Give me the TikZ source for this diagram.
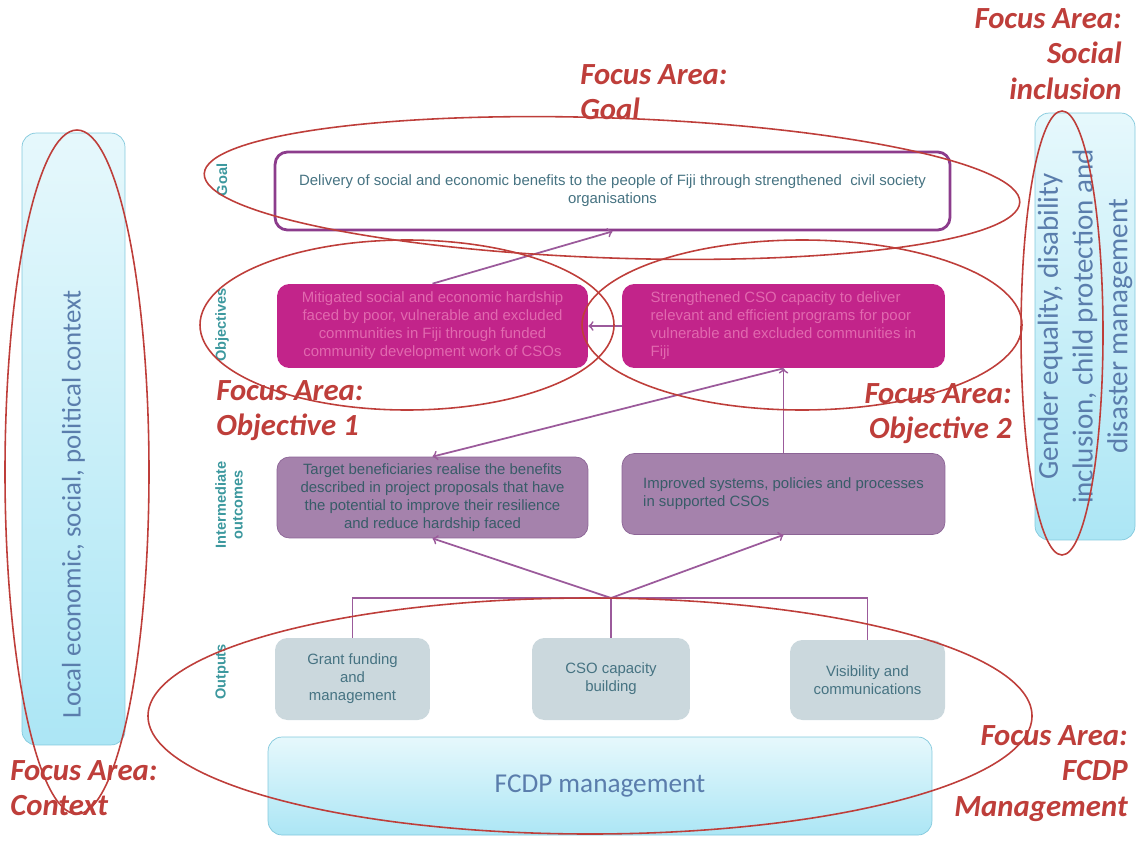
\documentclass[tikz,border=0pt]{standalone}
\usepackage{fontspec}
\setmainfont{Liberation Sans}
\newfontfamily\calibrifont{Carlito}
\usetikzlibrary{positioning}
\definecolor{focusred}{RGB}{190,62,58}
\definecolor{rowteal}{RGB}{60,152,158}
\definecolor{goalpurple}{RGB}{140,60,140}
\definecolor{objmagenta}{RGB}{194,36,138}
\definecolor{objtext}{RGB}{225,105,175}
\definecolor{intpurple}{RGB}{165,130,172}
\definecolor{intborder}{RGB}{140,100,150}
\definecolor{boxtext}{RGB}{70,115,130}
\definecolor{outgrey}{RGB}{203,216,221}
\definecolor{linkpurple}{RGB}{155,90,155}
\definecolor{skylight}{RGB}{230,248,252}
\definecolor{skydeep}{RGB}{172,230,245}
\definecolor{skyborder}{RGB}{130,200,220}
\definecolor{skytext}{RGB}{90,125,172}
\tikzset{
  box/.style={rounded corners=7pt, inner sep=0pt, align=center, font=\fontsize{8.5}{10.2}\selectfont},
  goalbox/.style={box, draw=goalpurple, line width=1.6pt, fill=white, text=boxtext},
  objbox/.style={box, fill=objmagenta, text=objtext},
  intbox/.style={box, fill=intpurple, draw=intborder, text=boxtext!80!black},
  outbox/.style={box, fill=outgrey, text=boxtext},
  skybox/.style={rounded corners=8pt, draw=skyborder, inner sep=0pt, align=center, text=skytext, font=\calibrifont\fontsize{16.5}{19.8}\selectfont},
  skytxt/.style={inner sep=0pt, align=center, text=skytext, font=\calibrifont\fontsize{15.3}{18}\selectfont},
  rowlabel/.style={rotate=90, text=rowteal, align=center, font=\bfseries\fontsize{8.3}{9.5}\selectfont},
  link/.style={linkpurple, line width=1pt},
  focus/.style={focusred, line width=0.9pt},
  focuslabel/.style={text=focusred, inner sep=0pt, font=\calibrifont\bfseries\itshape\fontsize{17.5}{20.3}\selectfont}
}

\begin{document}
\begin{tikzpicture}[x=0.02cm,y=-0.02cm]
\useasboundingbox (0,0) rectangle (1138,841);

% context and cross-cutting boxes
\node[skybox, rotate=90, minimum width=12.24cm, minimum height=2.06cm, top color=skylight, bottom color=skydeep] (ctx) at (73.5,439) {};
\node[skytxt, rotate=90] (ctxtext) at (73.5,504) {Local economic, social, political context};
\node[skybox, rotate=90, minimum width=8.54cm, minimum height=2cm, top color=skylight, bottom color=skydeep] (incl) at (1085,326.5) {Gender equality, disability\\inclusion, child protection and\\disaster management};
\node[skybox, minimum width=13.28cm, minimum height=1.96cm, top color=skylight, bottom color=skydeep, font=\calibrifont\fontsize{15.5}{18}\selectfont] (fcdp) at (600,786) {FCDP management};

% row labels
\node[rowlabel] (rgoal) at (222,180) {Goal};
\node[rowlabel] (robj) at (222,325) {Objectives};
\node[rowlabel] (rint) at (229,505) {Intermediate\\outcomes};
\node[rowlabel] (rout) at (222,672) {Outputs};

% logic boxes
\node[goalbox, minimum width=13.5cm, minimum height=1.56cm] (goal) at (612.5,191) {Delivery of social and economic benefits to the people of Fiji through strengthened\ \ civil society\\organisations};
\node[objbox, minimum width=6.22cm, minimum height=1.68cm] (obja) at (432.5,326) {Mitigated social and economic hardship\\faced by poor, vulnerable and excluded\\communities in Fiji through funded\\community development work of CSOs};
\node[objbox, minimum width=6.46cm, minimum height=1.68cm, align=left] (objb) at (783.5,326) {Strengthened CSO capacity to deliver\\relevant and efficient programs for poor\\vulnerable and excluded communities in\\Fiji};
\node[intbox, minimum width=6.22cm, minimum height=1.62cm] (inta) at (432.5,497.5) {Target beneficiaries realise the benefits\\described in project proposals that have\\the potential to improve their resilience\\and reduce hardship faced};
\node[intbox, minimum width=6.46cm, minimum height=1.62cm, align=left] (intb) at (783.5,494) {Improved systems, policies and processes\\in supported CSOs};
\node[outbox, minimum width=3.1cm, minimum height=1.64cm] (outa) at (352.5,679) {Grant funding\\and\\management};
\node[outbox, minimum width=3.16cm, minimum height=1.64cm] (outb) at (611,679) {CSO capacity\\building};
\node[outbox, minimum width=3.1cm, minimum height=1.6cm] (outc) at (867.5,680) {Visibility and\\communications};

% links
\coordinate (hub) at (611,598);
\draw[link] (outa.north) |- (hub) -| (outc.north);
\draw[link] (outb.north) -- (hub);
\draw[link,->] (hub) -- (inta.south);
\draw[link,->] (hub) -- (intb.south);
\draw[link,->] (intb.north) -- (objb.south);
\draw[link,->] (objb.south) -- (inta.north);
\draw[link,->] (objb.west) -- (obja.east);
\draw[link,->] (obja.north) -- (goal.south);

% focus areas
\draw[focus, rotate around={-2:(612,188)}] (612,188) ellipse [x radius=408, y radius=70];
\draw[focus] (407,325) ellipse [x radius=207, y radius=85];
\draw[focus] (802,325) ellipse [x radius=220, y radius=85];
\draw[focus] (77,472) ellipse [x radius=72, y radius=342];
\draw[focus] (1062,333) ellipse [x radius=41, y radius=222];
\draw[focus] (590,716) ellipse [x radius=442, y radius=118];

\node[focuslabel, align=left, anchor=north west] (lgoal) at (580,64) {Focus Area:\\Goal};
\node[focuslabel, align=right, anchor=north east] (lincl) at (1122,8) {Focus Area:\\Social\\inclusion};
\node[focuslabel, align=left, anchor=north west] (lobj1) at (216,380) {Focus Area:\\Objective 1};
\node[focuslabel, align=right, anchor=north east] (lobj2) at (1012,383) {Focus Area:\\Objective 2};
\node[focuslabel, align=left, anchor=north west] (lctx) at (10,760) {Focus Area:\\Context};
\node[focuslabel, align=right, anchor=north east] (lfcdp) at (1128,725) {Focus Area:\\FCDP\\Management};
\end{tikzpicture}
\end{document}
